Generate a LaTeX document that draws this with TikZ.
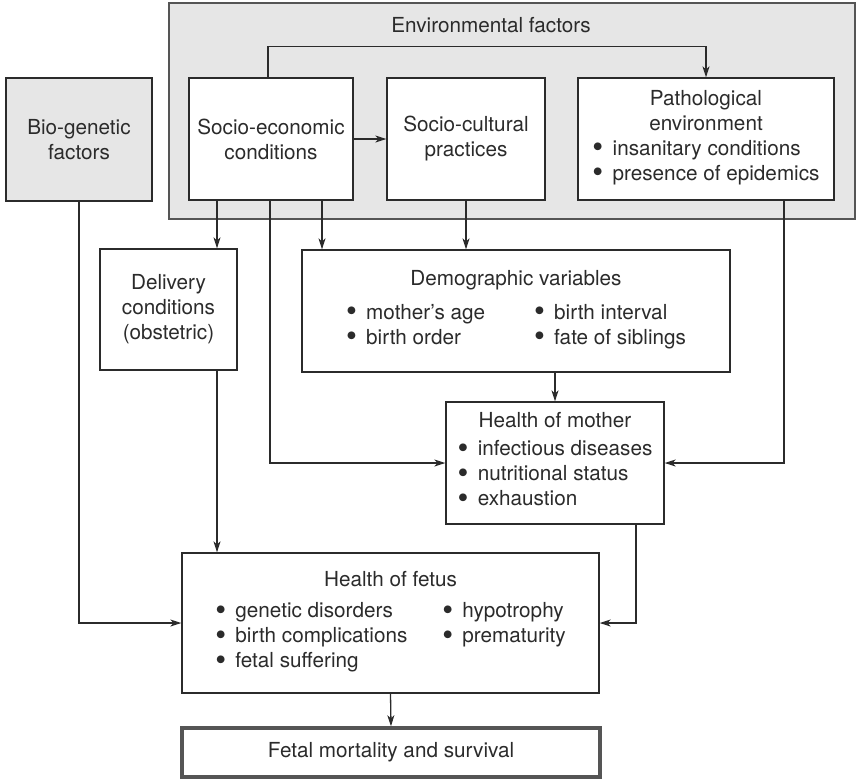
\documentclass[tikz,border=0pt]{standalone}
\usepackage{fontspec}
\setmainfont{TeX Gyre Heros}
\usetikzlibrary{arrows.meta,positioning}
\definecolor{ink}{HTML}{2B2B2B}
\definecolor{envgray}{HTML}{E6E6E6}
\definecolor{rimgray}{HTML}{555555}
\newcommand{\bul}[1]{\raisebox{-0.13em}{\scalebox{1.5}{\textbullet}}\hspace{0.45em}#1}

\begin{document}
\begin{tikzpicture}[x=1pt, y=-1pt,
  every node/.style={font=\fontsize{20.7}{25}\selectfont, text=ink},
  box/.style={draw=ink, line width=1.3pt, fill=white, align=center, inner sep=0pt},
  arr/.style={draw=ink, line width=1.3pt, -{Stealth[length=11pt, width=7pt, inset=3pt]}}]
  \useasboundingbox (0,0) rectangle (856,780);
  % environmental frame
  \node[draw=rimgray, line width=1.3pt, fill=envgray, minimum width=686pt, minimum height=216pt] (env) at (512,111) {};
  \node (envlbl) at (491,25) {Environmental factors};
  \node[box, fill=envgray, minimum width=146pt, minimum height=123pt] (bio) at (79,139.5) {Bio-genetic\\factors};
  \node[box, minimum width=164pt, minimum height=122pt] (soc) at (271,139) {Socio-economic\\conditions};
  \node[box, minimum width=158pt, minimum height=122pt] (cult) at (466,139) {Socio-cultural\\practices};
  \node[box, minimum width=256pt, minimum height=122pt] (path) at (706,139)
    {Pathological\\environment\\ \begin{tabular}[t]{@{}l@{}}\bul{insanitary conditions}\\ \bul{presence of epidemics}\end{tabular}};
  % middle row
  \node[box, minimum width=137pt, minimum height=121pt] (del) at (168.5,309.5) {Delivery\\conditions\\(obstetric)};
  \node[box, minimum width=428pt, minimum height=122pt] (demo) at (516,311)
    {Demographic variables\\[9pt] \begin{tabular}[t]{@{}p{188pt}@{}l@{}}\bul{mother’s age} & \bul{birth interval}\\ \bul{birth order} & \bul{fate of siblings}\end{tabular}};
  \node[box, minimum width=218pt, minimum height=122pt] (mom) at (555,463)
    {Health of mother\\[3pt] \begin{tabular}[t]{@{}l@{}}\bul{infectious diseases}\\ \bul{nutritional status}\\ \bul{exhaustion}\end{tabular}};
  % bottom
  \node[box, minimum width=417pt, minimum height=140pt] (fet) at (390.5,623)
    {Health of fetus\\[6pt] \begin{tabular}[t]{@{}p{227pt}@{}l@{}}\bul{genetic disorders} & \bul{hypotrophy}\\ \bul{birth complications} & \bul{prematurity}\\ \bul{fetal suffering} & \end{tabular}};
  \node[box, draw=rimgray, line width=3.5pt, minimum width=418pt, minimum height=49pt] (mort) at (391,752.5) {Fetal mortality and survival};
  % connector columns
  \coordinate (c1) at (217,0);
  \coordinate (c2) at (270,0);
  \coordinate (c3) at (322,0);
  \coordinate (c5) at (784,0);
  \coordinate (c6) at (636,0);
  % connectors
  \draw[arr] ([xshift=-3pt]soc.north) -- ++(0,-31) -| (path.north);
  \draw[arr] (soc.east) -- (cult.west);
  \draw[arr] (soc.south -| c1) -- (del.north -| c1);
  \draw[arr] (soc.south -| c3) -- (demo.north -| c3);
  \draw[arr] (soc.south -| c2) |- (mom.west);
  \draw[arr] (cult.south) -- (cult.south |- demo.north);
  \draw[arr] (path.south -| c5) |- (mom.east);
  \draw[arr] (demo.south -| mom.north) -- (mom.north);
  \draw[arr] (del.south -| c1) -- (fet.north -| c1);
  \draw[arr] (bio.south) |- (fet.west);
  \draw[arr] (mom.south -| c6) |- (fet.east);
  \draw[arr] (fet.south) -- (mort.north);
\end{tikzpicture}
\end{document}
